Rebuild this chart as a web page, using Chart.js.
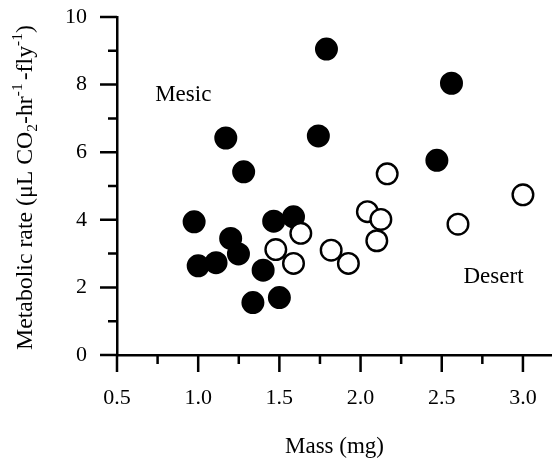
<!DOCTYPE html>
<html><head><meta charset="utf-8">
<script src="https://cdn.jsdelivr.net/npm/chart.js@4"></script>
<style>html,body{margin:0;padding:0;background:#fff;}canvas{display:block;}</style>
</head><body>
<canvas id="c" width="552" height="461"></canvas>
<script>
// ---- data ----
const mesicMass = [1.79, 2.56, 1.17, 1.74, 1.28, 2.47, 0.975, 1.465, 1.587, 1.20, 1.248, 1.00, 1.11, 1.40, 1.337, 1.50];
const mesicRate = [9.05, 8.04, 6.42, 6.48, 5.42, 5.76, 3.94, 3.96, 4.09, 3.45, 2.99, 2.64, 2.73, 2.51, 1.55, 1.70];
const desertMass = [2.164, 3.00, 2.042, 2.125, 2.10, 2.60, 1.632, 1.478, 1.587, 1.819, 1.925];
const desertRate = [5.36, 4.74, 4.24, 4.01, 3.38, 3.87, 3.60, 3.12, 2.71, 3.10, 2.71];
const xTickValues = [0.5, 1.0, 1.5, 2.0, 2.5, 3.0];
const xMinorTickValues = [0.75, 1.25, 1.75, 2.25, 2.75];
const yTickValues = [0, 2, 4, 6, 8, 10];
const yMinorTickValues = [1, 3, 5, 7, 9];
const xTitle = 'Mass (mg)';
const yTitleParts = [['Metabolic rate (μL CO', 0], ['2', -1], ['-hr', 0], ['-1', 1], ['-fly', 0], ['-1', 1], [')', 0]];
const groupLabels = [{text: 'Mesic', x: 0.735, y: 7.51}, {text: 'Desert', x: 2.634, y: 2.14}];

const FAM = '"Liberation Serif", "Times New Roman", serif';

const toPts = (xs, ys) => xs.map((v, i) => ({x: v, y: ys[i]}));

const decor = {
  id: 'decor',
  afterDraw(chart) {
    const {ctx, scales: {x, y}, chartArea: ca} = chart;
    ctx.save();
    ctx.strokeStyle = '#000';
    ctx.lineWidth = 2.5;
    ctx.beginPath();
    yTickValues.forEach(v => { const p = y.getPixelForValue(v); ctx.moveTo(ca.left - 17, p); ctx.lineTo(ca.left, p); });
    yMinorTickValues.forEach(v => { const p = y.getPixelForValue(v); ctx.moveTo(ca.left - 9, p); ctx.lineTo(ca.left, p); });
    xTickValues.forEach(v => { const p = x.getPixelForValue(v); ctx.moveTo(p, ca.bottom); ctx.lineTo(p, ca.bottom + 17); });
    xMinorTickValues.forEach(v => { const p = x.getPixelForValue(v); ctx.moveTo(p, ca.bottom); ctx.lineTo(p, ca.bottom + 9); });
    ctx.stroke();

    ctx.fillStyle = '#000';
    ctx.textBaseline = 'alphabetic';
    ctx.textAlign = 'left';
    ctx.font = '23px ' + FAM;
    groupLabels.forEach(g => ctx.fillText(g.text, x.getPixelForValue(g.x), y.getPixelForValue(g.y)));

    // y axis title with sub/superscripts
    ctx.translate(31.5, 350);
    ctx.rotate(-Math.PI / 2);
    let pos = 0;
    yTitleParts.forEach(([t, s], i) => {
      const size = s === 0 ? 23.8 : 15.5;
      ctx.font = size + 'px ' + FAM;
      const off = s === 1 ? -10 : (s === -1 ? 5 : 0);
      ctx.fillText(t, pos, off);
      pos += ctx.measureText(t).width + (s === 1 && i < yTitleParts.length - 2 ? 3 : 0);
    });
    ctx.restore();
  }
};

new Chart(document.getElementById('c'), {
  type: 'scatter',
  data: {
    datasets: [
      {label: 'Desert', data: toPts(desertMass, desertRate), backgroundColor: '#fff', borderColor: '#000',
       pointRadius: 10.3, pointBorderWidth: 2.4, pointHoverRadius: 10.3},
      {label: 'Mesic', data: toPts(mesicMass, mesicRate), backgroundColor: '#000', borderColor: '#000',
       pointRadius: 10.5, pointBorderWidth: 2, pointHoverRadius: 10.5}
    ]
  },
  options: {
    responsive: false,
    animation: false,
    layout: {autoPadding: false, padding: {top: 17, left: 0, right: 0, bottom: 0}},
    plugins: {legend: {display: false}, tooltip: {enabled: false}},
    scales: {
      x: {
        type: 'linear', min: 0.5, max: 3.179,
        afterBuildTicks: s => { s.ticks = xTickValues.map(v => ({value: v})); },
        afterFit: s => { s.height = 106; s.paddingLeft = 0; s.paddingRight = 0; },
        ticks: {callback: v => Number(v).toFixed(1), color: '#000', font: {family: FAM, size: 22}, padding: 0, maxRotation: 0, autoSkip: false},
        grid: {display: false, drawTicks: true, tickLength: 30},
        border: {display: true, color: '#000', width: 2.5},
        title: {display: true, text: xTitle, color: '#000', font: {family: FAM, size: 23}, padding: {top: 0, bottom: 0}}
      },
      y: {
        type: 'linear', min: 0, max: 10,
        afterBuildTicks: s => { s.ticks = yTickValues.map(v => ({value: v})); },
        afterFit: s => { s.width = 117; s.paddingTop = 0; s.paddingBottom = 0; },
        ticks: {callback: v => String(v), color: '#000', font: {family: FAM, size: 22}, padding: 0, autoSkip: false},
        grid: {display: false, drawTicks: true, tickLength: 30},
        border: {display: true, color: '#000', width: 2.5}
      }
    }
  },
  plugins: [decor]
});
</script>
</body></html>
